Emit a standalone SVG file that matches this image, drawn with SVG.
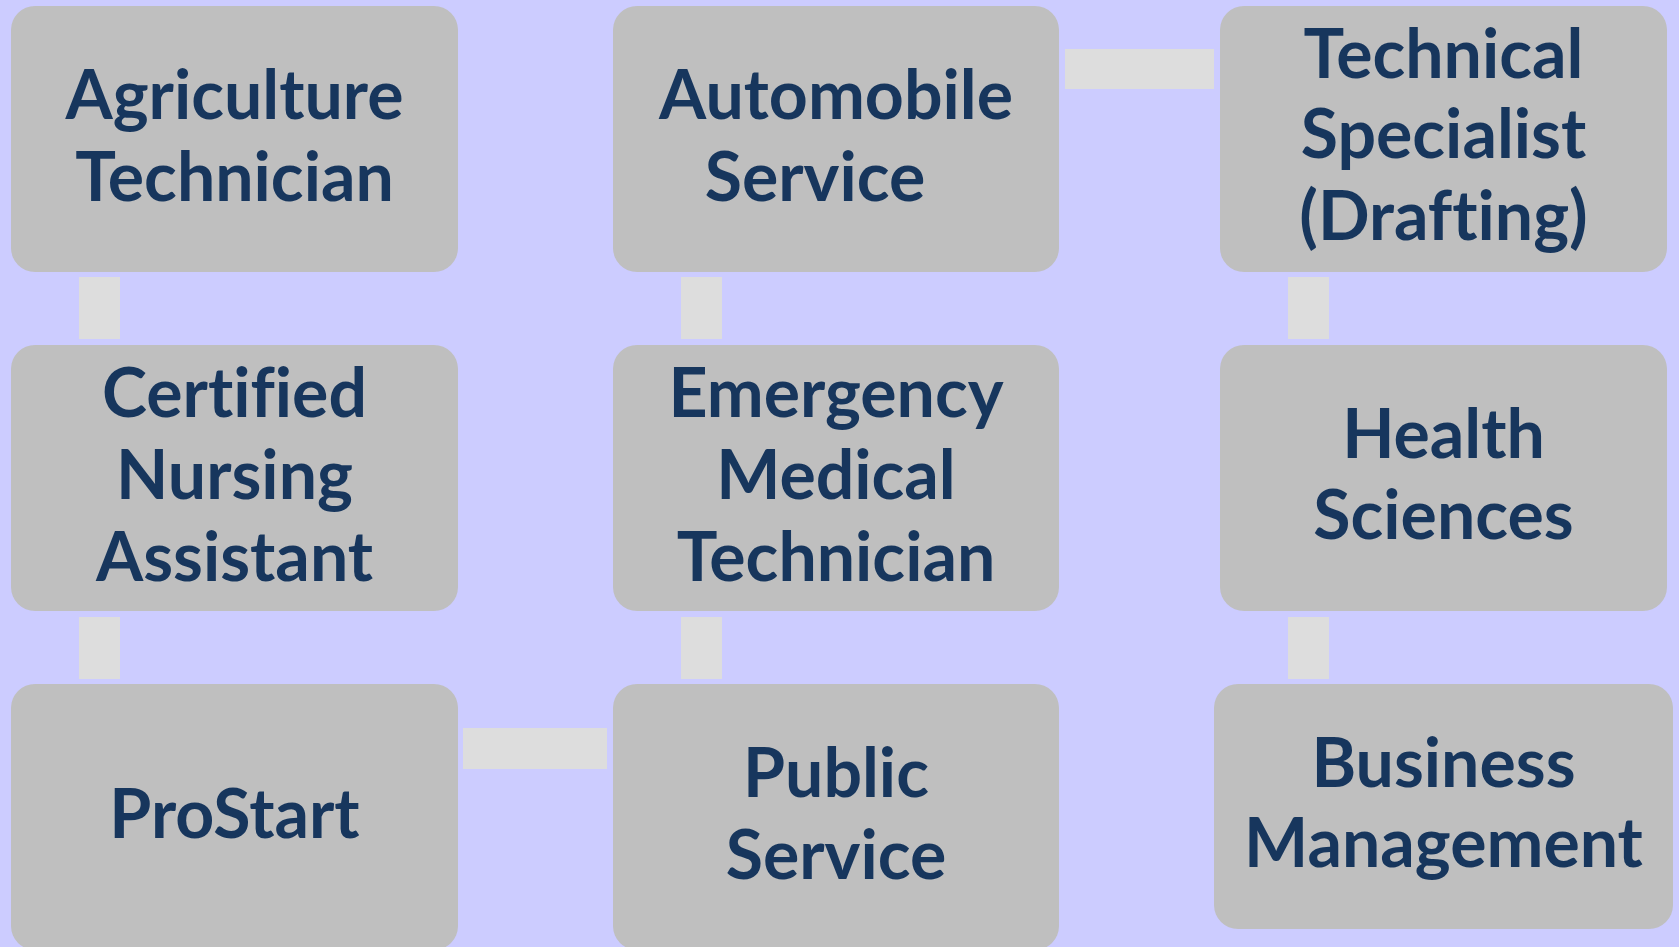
<svg xmlns="http://www.w3.org/2000/svg" width="1679" height="947" viewBox="0 0 1679 947">
<style>
.box{fill:#BFBFBF}
.con{fill:#DDDDDD}
.t{font-family:Lato,"Liberation Sans",sans-serif;font-weight:bold;font-size:68px;fill:#17365D;text-anchor:middle;font-variant-ligatures:none}
</style>
<rect width="1679" height="947" fill="#CCCCFF"/>
<g id="connectors">
<rect class="con" x="79" y="277" width="41" height="62"/>
<rect class="con" x="79" y="617" width="41" height="62"/>
<rect class="con" x="681" y="277" width="41" height="62"/>
<rect class="con" x="681" y="617" width="41" height="62"/>
<rect class="con" x="1288" y="277" width="41" height="62"/>
<rect class="con" x="1288" y="617" width="41" height="62"/>
<rect class="con" x="1065" y="49" width="149" height="40"/>
<rect class="con" x="463" y="728" width="144" height="41"/>
</g>
<g id="agriculture">
<rect class="box" x="11" y="6" width="447" height="266" rx="24"/>
<text class="t" x="234.5" y="119">Agriculture</text>
<text class="t" x="234.5" y="201">Technician</text>
</g>
<g id="automobile">
<rect class="box" x="613" y="6" width="446" height="266" rx="24"/>
<text class="t" x="836" y="119">Automobile</text>
<text class="t" x="815" y="201">Service</text>
</g>
<g id="technical">
<rect class="box" x="1220" y="6" width="447" height="266" rx="24"/>
<text class="t" x="1443.5" y="78">Technical</text>
<text class="t" x="1443.5" y="158">Specialist</text>
<text class="t" x="1443.5" y="240">(Drafting)</text>
</g>
<g id="cna">
<rect class="box" x="11" y="345" width="447" height="266" rx="24"/>
<text class="t" x="234.5" y="417">Certified</text>
<text class="t" x="234.5" y="499">Nursing</text>
<text class="t" x="234.5" y="581">Assistant</text>
</g>
<g id="emt">
<rect class="box" x="613" y="345" width="446" height="266" rx="24"/>
<text class="t" x="836" y="417">Emergency</text>
<text class="t" x="836" y="499">Medical</text>
<text class="t" x="836" y="581">Technician</text>
</g>
<g id="health">
<rect class="box" x="1220" y="345" width="447" height="266" rx="24"/>
<text class="t" x="1443.5" y="458">Health</text>
<text class="t" x="1443.5" y="539">Sciences</text>
</g>
<g id="prostart">
<rect class="box" x="11" y="684" width="447" height="266" rx="24"/>
<text class="t" x="234.5" y="838">ProStart</text>
</g>
<g id="public">
<rect class="box" x="613" y="684" width="446" height="266" rx="24"/>
<text class="t" x="836" y="797">Public</text>
<text class="t" x="836" y="879">Service</text>
</g>
<g id="business">
<rect class="box" x="1214" y="684" width="459" height="245" rx="24"/>
<text class="t" x="1443.5" y="787">Business</text>
<text class="t" x="1443.5" y="867">Management</text>
</g>
</svg>
